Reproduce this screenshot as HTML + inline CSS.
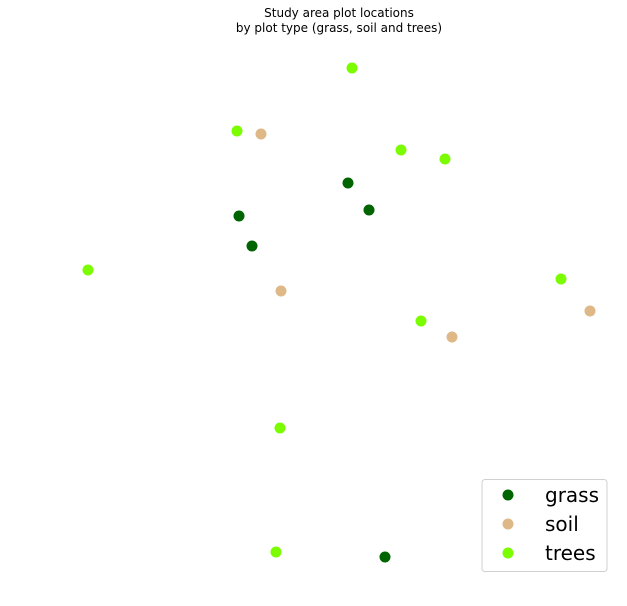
<!DOCTYPE html>
<html><head><meta charset="utf-8"><style>
html,body{margin:0;padding:0;background:#fff;}
svg{display:block;font-family:"DejaVu Sans","Liberation Sans",sans-serif;}
</style></head><body>
<svg id="chart" width="627" height="606">
<g>
<text x="339" y="17" font-size="12" text-anchor="middle" fill="#000">Study area plot locations</text>
<text x="339" y="32" font-size="12" text-anchor="middle" fill="#000">by plot type (grass, soil and trees)</text>
</g>
<g id="points"></g>
<g>
<rect x="482" y="479.5" width="125" height="92" rx="3" fill="#fff" stroke="#d0d0d0" stroke-width="1"/>
<g id="legend-items"></g>
</g>
</svg>
<script>
const categories = ["grass","soil","trees"];
const colors = ["#006400","#deb887","#7cfc00"];
const grassX = [347,368,238,251,384];
const grassY = [182,209,215,245,556];
const soilX = [260,280,451,589];
const soilY = [133,290,336,310];
const treesX = [351,236,400,444,87,560,420,279,275];
const treesY = [67,130,149,158,269,278,320,427,551];
function sx(v){return v+1;}
function sy(v){return v+1;}
const NS="http://www.w3.org/2000/svg";
const layer=document.getElementById('points');
const series=[[grassX,grassY],[soilX,soilY],[treesX,treesY]];
series.forEach((s,i)=>{
  s[0].forEach((x,j)=>{
    const c=document.createElementNS(NS,'circle');
    c.setAttribute('cx',sx(x));c.setAttribute('cy',sy(s[1][j]));
    c.setAttribute('r',5.5);c.setAttribute('fill',colors[i]);
    
    
    layer.appendChild(c);
  });
});
const li=document.getElementById('legend-items');
categories.forEach((cat,i)=>{
  const y=495+i*29;
  const c=document.createElementNS(NS,'circle');
  c.setAttribute('cx',508);c.setAttribute('cy',y);c.setAttribute('r',5.5);c.setAttribute('fill',colors[i]);
  
  
  li.appendChild(c);
  const t=document.createElementNS(NS,'text');
  t.setAttribute('x',545);t.setAttribute('y',y+7);t.setAttribute('font-size','20');t.setAttribute('fill','#000');
  t.textContent=cat;
  
  
  li.appendChild(t);
});
</script>
</body></html>
